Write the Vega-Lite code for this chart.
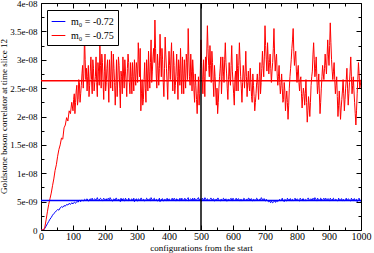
{
"$schema":"https://vega.github.io/schema/vega-lite/v6.json",
"width":320,"height":227,
"autosize":{"type":"none"},
"padding":{"left":41,"top":3,"right":13,"bottom":23},
"background":"white",
"config":{
 "view":{"stroke":"black","strokeWidth":1},
 "font":"Liberation Serif",
 "axis":{"labelFont":"Liberation Serif","titleFont":"Liberation Serif","labelColor":"black","titleColor":"black","tickColor":"black","domain":false,"grid":false,"titleFontWeight":"normal","labelFontSize":10,"titleFontSize":9,"tickWidth":1},
 "legend":{"labelFont":"Liberation Serif","labelFontSize":10,"labelColor":"black"}
},
"datasets":{
"series":[
{"x":0,"b":0,"r":0},{"x":4,"b":0,"r":0},{"x":8,"b":0,"r":0},{"x":12,"b":0.3e-9,"r":0.5e-9},{"x":16,"b":0.7e-9,"r":1.8e-9},{"x":20,"b":1.1e-9,"r":3.2e-9},{"x":24,"b":1.5e-9,"r":4.5e-9},{"x":28,"b":1.9e-9,"r":5.5e-9},{"x":32,"b":2.2e-9,"r":6.5e-9},{"x":36,"b":2.6e-9,"r":7.8e-9},
{"x":40,"b":2.9e-9,"r":9.0e-9},{"x":44,"b":3.1e-9,"r":10.5e-9},{"x":48,"b":3.4e-9,"r":11.5e-9},{"x":52,"b":3.6e-9,"r":13.0e-9},{"x":56,"b":3.5e-9,"r":14.2e-9},{"x":60,"b":3.9e-9,"r":15.0e-9},{"x":64,"b":4.1e-9,"r":16.2e-9},{"x":68,"b":4.0e-9,"r":16.0e-9},{"x":72,"b":4.3e-9,"r":18.0e-9},{"x":76,"b":4.2e-9,"r":18.5e-9},
{"x":80,"b":4.5e-9,"r":19.8e-9},{"x":84,"b":4.4e-9,"r":19.2e-9},{"x":88,"b":4.7e-9,"r":21.0e-9},{"x":92,"b":4.5e-9,"r":20.5e-9},{"x":96,"b":4.8e-9,"r":22.5e-9},{"x":100,"b":4.6e-9,"r":21.0e-9},{"x":104,"b":4.9e-9,"r":24.0e-9},{"x":108,"b":4.7e-9,"r":22.5e-9},{"x":112,"b":5.0e-9,"r":25.5e-9},{"x":116,"b":4.9e-9,"r":23.0e-9},
{"x":120,"b":5.2e-9,"r":26.0e-9},{"x":124,"b":5.0e-9,"r":24.0e-9},{"x":128,"b":5.3e-9,"r":27.5e-9},{"x":132,"b":5.1e-9,"r":25.0e-9},{"x":136,"b":5.4e-9,"r":34.5e-9},{"x":140,"b":5.2e-9,"r":26.5e-9},{"x":144,"b":5.5e-9,"r":24.5e-9},{"x":148,"b":5.1e-9,"r":29.0e-9},{"x":152,"b":5.4e-9,"r":25.5e-9},{"x":156,"b":5.3e-9,"r":30.5e-9},
{"x":160,"b":5.6e-9,"r":24.0e-9},{"x":164,"b":5.2e-9,"r":28.5e-9},{"x":168,"b":5.5e-9,"r":26.0e-9},{"x":172,"b":5.3e-9,"r":30.5e-9},{"x":176,"b":5.7e-9,"r":23.5e-9},{"x":180,"b":5.2e-9,"r":28.0e-9},{"x":184,"b":5.5e-9,"r":32.5e-9},{"x":188,"b":5.4e-9,"r":25.0e-9},{"x":192,"b":5.1e-9,"r":29.5e-9},{"x":196,"b":5.6e-9,"r":23.0e-9},
{"x":200,"b":5.3e-9,"r":31.0e-9},{"x":204,"b":5.5e-9,"r":26.0e-9},{"x":208,"b":5.2e-9,"r":30.0e-9},{"x":212,"b":5.4e-9,"r":22.5e-9},{"x":216,"b":5.7e-9,"r":27.5e-9},{"x":220,"b":5.3e-9,"r":31.5e-9},{"x":224,"b":5.1e-9,"r":24.5e-9},{"x":228,"b":5.5e-9,"r":28.5e-9},{"x":232,"b":5.3e-9,"r":22.0e-9},{"x":236,"b":5.6e-9,"r":30.0e-9},
{"x":240,"b":5.2e-9,"r":26.5e-9},{"x":244,"b":5.4e-9,"r":29.0e-9},{"x":248,"b":5.0e-9,"r":21.5e-9},{"x":252,"b":5.3e-9,"r":27.0e-9},{"x":256,"b":5.5e-9,"r":30.5e-9},{"x":260,"b":5.2e-9,"r":25.0e-9},{"x":264,"b":5.6e-9,"r":28.0e-9},{"x":268,"b":5.3e-9,"r":23.5e-9},{"x":272,"b":5.1e-9,"r":31.0e-9},{"x":276,"b":5.4e-9,"r":26.0e-9},
{"x":280,"b":5.2e-9,"r":29.5e-9},{"x":284,"b":5.5e-9,"r":24.0e-9},{"x":288,"b":5.3e-9,"r":27.0e-9},{"x":292,"b":5.0e-9,"r":30.0e-9},{"x":296,"b":5.4e-9,"r":25.5e-9},{"x":300,"b":5.2e-9,"r":28.5e-9},{"x":304,"b":5.5e-9,"r":33.0e-9},{"x":308,"b":5.3e-9,"r":27.0e-9},{"x":312,"b":5.6e-9,"r":21.0e-9},{"x":316,"b":5.2e-9,"r":26.5e-9},
{"x":320,"b":5.4e-9,"r":23.0e-9},{"x":324,"b":5.1e-9,"r":29.5e-9},{"x":328,"b":5.3e-9,"r":22.5e-9},{"x":332,"b":5.5e-9,"r":27.5e-9},{"x":336,"b":5.2e-9,"r":31.5e-9},{"x":340,"b":5.4e-9,"r":25.0e-9},{"x":344,"b":5.7e-9,"r":33.5e-9},{"x":348,"b":5.3e-9,"r":28.0e-9},{"x":352,"b":5.5e-9,"r":32.0e-9},{"x":356,"b":5.2e-9,"r":37.0e-9},
{"x":360,"b":5.4e-9,"r":27.5e-9},{"x":364,"b":5.1e-9,"r":31.0e-9},{"x":368,"b":5.3e-9,"r":25.5e-9},{"x":372,"b":5.0e-9,"r":34.5e-9},{"x":376,"b":5.3e-9,"r":27.0e-9},{"x":380,"b":5.5e-9,"r":30.0e-9},{"x":384,"b":5.2e-9,"r":23.5e-9},{"x":388,"b":5.4e-9,"r":34.0e-9},{"x":392,"b":5.1e-9,"r":28.5e-9},{"x":396,"b":5.3e-9,"r":23.0e-9},
{"x":400,"b":5.5e-9,"r":31.5e-9},{"x":404,"b":5.2e-9,"r":26.5e-9},{"x":408,"b":5.4e-9,"r":33.0e-9},{"x":412,"b":5.3e-9,"r":24.5e-9},{"x":416,"b":5.6e-9,"r":29.0e-9},{"x":420,"b":5.2e-9,"r":25.5e-9},{"x":424,"b":5.5e-9,"r":31.0e-9},{"x":428,"b":5.3e-9,"r":23.0e-9},{"x":432,"b":5.1e-9,"r":28.5e-9},{"x":436,"b":5.4e-9,"r":32.0e-9},
{"x":440,"b":5.6e-9,"r":24.0e-9},{"x":444,"b":5.3e-9,"r":27.5e-9},{"x":448,"b":5.5e-9,"r":30.0e-9},{"x":452,"b":5.2e-9,"r":25.0e-9},{"x":456,"b":5.4e-9,"r":29.5e-9},{"x":460,"b":5.7e-9,"r":35.5e-9},{"x":464,"b":5.3e-9,"r":27.0e-9},{"x":468,"b":5.5e-9,"r":31.0e-9},{"x":472,"b":5.2e-9,"r":24.5e-9},{"x":476,"b":5.4e-9,"r":28.0e-9},
{"x":480,"b":5.6e-9,"r":22.5e-9},{"x":484,"b":5.3e-9,"r":25.5e-9},{"x":488,"b":5.5e-9,"r":20.5e-9},{"x":492,"b":5.7e-9,"r":27.0e-9},{"x":496,"b":5.4e-9,"r":24.0e-9},{"x":500,"b":5.2e-9,"r":33.5e-9},{"x":504,"b":5.6e-9,"r":26.5e-9},{"x":508,"b":5.4e-9,"r":30.0e-9},{"x":512,"b":5.7e-9,"r":23.5e-9},{"x":516,"b":5.3e-9,"r":28.0e-9},
{"x":520,"b":5.5e-9,"r":36.0e-9},{"x":524,"b":5.2e-9,"r":29.0e-9},{"x":528,"b":5.4e-9,"r":32.5e-9},{"x":532,"b":5.6e-9,"r":26.0e-9},{"x":536,"b":5.3e-9,"r":29.5e-9},{"x":540,"b":5.5e-9,"r":23.5e-9},{"x":544,"b":5.2e-9,"r":27.0e-9},{"x":548,"b":5.4e-9,"r":22.0e-9},{"x":552,"b":5.6e-9,"r":20.5e-9},{"x":556,"b":5.3e-9,"r":25.0e-9},
{"x":560,"b":5.1e-9,"r":28.5e-9},{"x":564,"b":5.4e-9,"r":24.0e-9},{"x":568,"b":5.2e-9,"r":30.5e-9},{"x":572,"b":5.5e-9,"r":26.0e-9},{"x":576,"b":5.3e-9,"r":33.0e-9},{"x":580,"b":5.1e-9,"r":27.5e-9},{"x":584,"b":5.4e-9,"r":23.0e-9},{"x":588,"b":5.2e-9,"r":29.5e-9},{"x":592,"b":5.5e-9,"r":25.5e-9},{"x":596,"b":5.3e-9,"r":32.5e-9},
{"x":600,"b":5.6e-9,"r":26.0e-9},{"x":604,"b":5.2e-9,"r":22.0e-9},{"x":608,"b":5.4e-9,"r":28.0e-9},{"x":612,"b":5.3e-9,"r":31.0e-9},{"x":616,"b":5.5e-9,"r":24.5e-9},{"x":620,"b":5.2e-9,"r":33.0e-9},{"x":624,"b":5.4e-9,"r":27.0e-9},{"x":628,"b":5.1e-9,"r":22.5e-9},{"x":632,"b":5.3e-9,"r":29.0e-9},{"x":636,"b":5.5e-9,"r":25.0e-9},
{"x":640,"b":5.2e-9,"r":31.5e-9},{"x":644,"b":5.4e-9,"r":23.5e-9},{"x":648,"b":5.6e-9,"r":28.0e-9},{"x":652,"b":5.3e-9,"r":24.5e-9},{"x":656,"b":5.5e-9,"r":26.0e-9},{"x":660,"b":5.2e-9,"r":22.5e-9},{"x":664,"b":5.4e-9,"r":25.5e-9},{"x":668,"b":5.1e-9,"r":21.0e-9},{"x":672,"b":5.3e-9,"r":24.0e-9},{"x":676,"b":5.5e-9,"r":27.5e-9},
{"x":680,"b":5.2e-9,"r":23.0e-9},{"x":684,"b":5.4e-9,"r":29.5e-9},{"x":688,"b":5.7e-9,"r":26.0e-9},{"x":692,"b":5.3e-9,"r":31.5e-9},{"x":696,"b":5.5e-9,"r":27.0e-9},{"x":700,"b":5.2e-9,"r":36.0e-9},{"x":704,"b":5.4e-9,"r":30.0e-9},{"x":708,"b":5.1e-9,"r":33.0e-9},{"x":712,"b":5.0e-9,"r":27.5e-9},{"x":716,"b":4.9e-9,"r":31.0e-9},
{"x":720,"b":5.1e-9,"r":26.0e-9},{"x":724,"b":4.8e-9,"r":29.5e-9},{"x":728,"b":5.0e-9,"r":35.5e-9},{"x":732,"b":4.9e-9,"r":28.0e-9},{"x":736,"b":5.2e-9,"r":31.0e-9},{"x":740,"b":5.0e-9,"r":25.5e-9},{"x":744,"b":5.3e-9,"r":29.0e-9},{"x":748,"b":5.1e-9,"r":24.0e-9},{"x":752,"b":5.4e-9,"r":27.5e-9},{"x":756,"b":5.2e-9,"r":22.5e-9},
{"x":760,"b":5.0e-9,"r":26.0e-9},{"x":764,"b":5.3e-9,"r":21.0e-9},{"x":768,"b":5.1e-9,"r":24.5e-9},{"x":772,"b":5.4e-9,"r":19.5e-9},{"x":776,"b":5.2e-9,"r":25.0e-9},{"x":780,"b":5.5e-9,"r":28.5e-9},{"x":784,"b":5.3e-9,"r":32.0e-9},{"x":788,"b":5.1e-9,"r":35.5e-9},{"x":792,"b":5.4e-9,"r":29.0e-9},{"x":796,"b":5.2e-9,"r":31.5e-9},
{"x":800,"b":5.5e-9,"r":26.0e-9},{"x":804,"b":5.3e-9,"r":29.0e-9},{"x":808,"b":5.1e-9,"r":24.5e-9},{"x":812,"b":5.4e-9,"r":27.0e-9},{"x":816,"b":5.2e-9,"r":21.5e-9},{"x":820,"b":5.5e-9,"r":25.0e-9},{"x":824,"b":5.3e-9,"r":22.0e-9},{"x":828,"b":5.1e-9,"r":26.5e-9},{"x":832,"b":5.4e-9,"r":19.0e-9},{"x":836,"b":5.6e-9,"r":23.5e-9},
{"x":840,"b":5.3e-9,"r":20.0e-9},{"x":844,"b":5.5e-9,"r":25.5e-9},{"x":848,"b":5.2e-9,"r":28.0e-9},{"x":852,"b":5.4e-9,"r":33.0e-9},{"x":856,"b":5.7e-9,"r":27.0e-9},{"x":860,"b":5.3e-9,"r":30.5e-9},{"x":864,"b":5.6e-9,"r":24.0e-9},{"x":868,"b":5.4e-9,"r":27.5e-9},{"x":872,"b":5.2e-9,"r":20.5e-9},{"x":876,"b":5.5e-9,"r":25.0e-9},
{"x":880,"b":5.3e-9,"r":29.0e-9},{"x":884,"b":5.6e-9,"r":26.5e-9},{"x":888,"b":5.4e-9,"r":31.0e-9},{"x":892,"b":5.2e-9,"r":27.5e-9},{"x":896,"b":5.5e-9,"r":33.5e-9},{"x":900,"b":5.3e-9,"r":29.0e-9},{"x":904,"b":5.6e-9,"r":36.5e-9},{"x":908,"b":5.3e-9,"r":30.0e-9},{"x":912,"b":5.5e-9,"r":26.5e-9},{"x":916,"b":5.2e-9,"r":29.5e-9},
{"x":920,"b":5.4e-9,"r":24.0e-9},{"x":924,"b":5.3e-9,"r":27.0e-9},{"x":928,"b":5.1e-9,"r":20.0e-9},{"x":932,"b":5.4e-9,"r":24.5e-9},{"x":936,"b":5.2e-9,"r":19.5e-9},{"x":940,"b":5.5e-9,"r":23.0e-9},{"x":944,"b":5.3e-9,"r":26.5e-9},{"x":948,"b":5.1e-9,"r":21.0e-9},{"x":952,"b":5.4e-9,"r":25.0e-9},{"x":956,"b":5.2e-9,"r":28.5e-9},
{"x":960,"b":5.5e-9,"r":22.0e-9},{"x":964,"b":5.3e-9,"r":26.0e-9},{"x":968,"b":5.1e-9,"r":30.5e-9},{"x":972,"b":5.4e-9,"r":24.0e-9},{"x":976,"b":5.2e-9,"r":27.0e-9},{"x":980,"b":5.5e-9,"r":22.5e-9},{"x":984,"b":5.3e-9,"r":18.5e-9},{"x":988,"b":5.0e-9,"r":24.0e-9},{"x":992,"b":5.4e-9,"r":29.5e-9},{"x":996,"b":5.2e-9,"r":25.0e-9},
{"x":1000,"b":5.0e-9,"r":26.5e-9},
{"x":102,"b":4.8e-9,"r":23.0e-9},{"x":106,"b":4.8e-9,"r":20.5e-9},{"x":110,"b":4.9e-9,"r":24.5e-9},{"x":114,"b":5.0e-9,"r":22.0e-9},{"x":118,"b":5.1e-9,"r":26.5e-9},{"x":122,"b":5.1e-9,"r":22.5e-9},{"x":126,"b":5.2e-9,"r":25.5e-9},{"x":130,"b":5.2e-9,"r":29.0e-9},{"x":134,"b":5.3e-9,"r":27.5e-9},{"x":138,"b":5.3e-9,"r":30.0e-9},
{"x":142,"b":5.4e-9,"r":28.5e-9},{"x":146,"b":5.3e-9,"r":27.0e-9},{"x":150,"b":5.2e-9,"r":23.5e-9},{"x":154,"b":5.5e-9,"r":28.0e-9},{"x":158,"b":5.4e-9,"r":26.5e-9},{"x":162,"b":5.3e-9,"r":30.0e-9},{"x":166,"b":5.4e-9,"r":24.5e-9},{"x":170,"b":5.4e-9,"r":27.0e-9},{"x":174,"b":5.5e-9,"r":26.0e-9},{"x":178,"b":5.4e-9,"r":29.5e-9},
{"x":182,"b":5.3e-9,"r":25.5e-9},{"x":186,"b":5.6e-9,"r":29.0e-9},{"x":190,"b":5.3e-9,"r":31.0e-9},{"x":194,"b":5.4e-9,"r":26.0e-9},{"x":198,"b":5.4e-9,"r":28.0e-9},{"x":202,"b":5.4e-9,"r":24.5e-9},{"x":206,"b":5.2e-9,"r":28.5e-9},{"x":210,"b":5.6e-9,"r":26.0e-9},{"x":214,"b":5.3e-9,"r":30.0e-9},{"x":218,"b":5.5e-9,"r":25.0e-9},
{"x":222,"b":5.1e-9,"r":28.0e-9},{"x":226,"b":5.4e-9,"r":31.0e-9},{"x":230,"b":5.3e-9,"r":26.0e-9},{"x":234,"b":5.6e-9,"r":25.5e-9},{"x":238,"b":5.2e-9,"r":23.5e-9},{"x":242,"b":5.4e-9,"r":30.5e-9},{"x":246,"b":5.2e-9,"r":25.0e-9},{"x":250,"b":5.6e-9,"r":28.0e-9},{"x":254,"b":5.3e-9,"r":24.0e-9},{"x":258,"b":5.5e-9,"r":27.5e-9},
{"x":262,"b":5.1e-9,"r":30.0e-9},{"x":266,"b":5.4e-9,"r":26.0e-9},{"x":270,"b":5.3e-9,"r":28.5e-9},{"x":274,"b":5.6e-9,"r":29.5e-9},{"x":278,"b":5.2e-9,"r":24.0e-9},{"x":282,"b":5.4e-9,"r":27.0e-9},{"x":286,"b":5.2e-9,"r":29.5e-9},{"x":290,"b":5.6e-9,"r":24.5e-9},{"x":294,"b":5.3e-9,"r":27.5e-9},{"x":298,"b":5.5e-9,"r":29.5e-9},
{"x":302,"b":5.1e-9,"r":26.0e-9},{"x":306,"b":5.4e-9,"r":30.0e-9},{"x":310,"b":5.3e-9,"r":32.0e-9},{"x":314,"b":5.6e-9,"r":24.0e-9},{"x":318,"b":5.2e-9,"r":22.0e-9},{"x":322,"b":5.4e-9,"r":26.5e-9},{"x":326,"b":5.2e-9,"r":25.0e-9},{"x":330,"b":5.6e-9,"r":30.0e-9},{"x":334,"b":5.3e-9,"r":24.5e-9},{"x":338,"b":5.5e-9,"r":28.0e-9},
{"x":342,"b":5.1e-9,"r":29.5e-9},{"x":346,"b":5.4e-9,"r":26.0e-9},{"x":350,"b":5.3e-9,"r":30.5e-9},{"x":354,"b":5.6e-9,"r":29.5e-9},{"x":358,"b":5.2e-9,"r":32.0e-9},{"x":362,"b":5.4e-9,"r":25.0e-9},{"x":366,"b":5.2e-9,"r":29.0e-9},{"x":370,"b":5.6e-9,"r":28.5e-9},{"x":374,"b":5.3e-9,"r":30.5e-9},{"x":378,"b":5.5e-9,"r":32.0e-9},
{"x":382,"b":5.1e-9,"r":26.0e-9},{"x":386,"b":5.4e-9,"r":28.5e-9},{"x":390,"b":5.3e-9,"r":31.0e-9},{"x":394,"b":5.6e-9,"r":26.0e-9},{"x":398,"b":5.2e-9,"r":28.0e-9},{"x":402,"b":5.4e-9,"r":29.0e-9},{"x":406,"b":5.2e-9,"r":30.5e-9},{"x":410,"b":5.6e-9,"r":27.5e-9},{"x":414,"b":5.3e-9,"r":31.5e-9},{"x":418,"b":5.5e-9,"r":24.0e-9},
{"x":422,"b":5.1e-9,"r":28.0e-9},{"x":426,"b":5.4e-9,"r":27.0e-9},{"x":430,"b":5.3e-9,"r":30.0e-9},{"x":434,"b":5.6e-9,"r":25.5e-9},{"x":438,"b":5.2e-9,"r":27.5e-9},{"x":442,"b":5.4e-9,"r":30.5e-9},{"x":446,"b":5.2e-9,"r":24.0e-9},{"x":450,"b":5.6e-9,"r":27.5e-9},{"x":454,"b":5.3e-9,"r":31.0e-9},{"x":458,"b":5.5e-9,"r":26.5e-9},
{"x":462,"b":5.1e-9,"r":30.5e-9},{"x":466,"b":5.4e-9,"r":25.5e-9},{"x":470,"b":5.3e-9,"r":28.0e-9},{"x":474,"b":5.6e-9,"r":30.0e-9},{"x":478,"b":5.2e-9,"r":24.5e-9},{"x":482,"b":5.4e-9,"r":27.5e-9},{"x":486,"b":5.2e-9,"r":23.0e-9},{"x":490,"b":5.6e-9,"r":24.0e-9},{"x":494,"b":5.3e-9,"r":22.0e-9},{"x":498,"b":5.5e-9,"r":28.5e-9},
{"x":502,"b":5.1e-9,"r":29.5e-9},{"x":506,"b":5.4e-9,"r":24.0e-9},{"x":510,"b":5.3e-9,"r":27.0e-9},{"x":514,"b":5.6e-9,"r":30.5e-9},{"x":518,"b":5.2e-9,"r":31.0e-9},{"x":522,"b":5.4e-9,"r":32.0e-9},{"x":526,"b":5.2e-9,"r":27.0e-9},{"x":530,"b":5.6e-9,"r":29.0e-9},{"x":534,"b":5.3e-9,"r":31.5e-9},{"x":538,"b":5.5e-9,"r":26.0e-9},
{"x":542,"b":5.1e-9,"r":29.0e-9},{"x":546,"b":5.4e-9,"r":24.5e-9},{"x":550,"b":5.3e-9,"r":25.0e-9},{"x":554,"b":5.6e-9,"r":22.5e-9},{"x":558,"b":5.2e-9,"r":27.0e-9},{"x":562,"b":5.4e-9,"r":30.5e-9},{"x":566,"b":5.2e-9,"r":27.0e-9},{"x":570,"b":5.6e-9,"r":28.0e-9},{"x":574,"b":5.3e-9,"r":30.0e-9},{"x":578,"b":5.5e-9,"r":29.5e-9},
{"x":582,"b":5.1e-9,"r":25.0e-9},{"x":586,"b":5.4e-9,"r":26.5e-9},{"x":590,"b":5.3e-9,"r":27.0e-9},{"x":594,"b":5.6e-9,"r":29.0e-9},{"x":598,"b":5.2e-9,"r":28.0e-9},{"x":602,"b":5.4e-9,"r":24.0e-9},{"x":606,"b":5.2e-9,"r":26.5e-9},{"x":610,"b":5.6e-9,"r":24.5e-9},{"x":614,"b":5.3e-9,"r":28.5e-9},{"x":618,"b":5.5e-9,"r":29.0e-9},
{"x":622,"b":5.1e-9,"r":30.0e-9},{"x":626,"b":5.4e-9,"r":25.0e-9},{"x":630,"b":5.3e-9,"r":26.0e-9},{"x":634,"b":5.6e-9,"r":27.5e-9},{"x":638,"b":5.2e-9,"r":28.0e-9},{"x":642,"b":5.4e-9,"r":27.0e-9},{"x":646,"b":5.2e-9,"r":26.0e-9},{"x":650,"b":5.6e-9,"r":25.5e-9},{"x":654,"b":5.3e-9,"r":28.5e-9},{"x":658,"b":5.5e-9,"r":23.5e-9},
{"x":662,"b":5.1e-9,"r":27.5e-9},{"x":666,"b":5.4e-9,"r":23.5e-9},{"x":670,"b":5.3e-9,"r":22.5e-9},{"x":674,"b":5.6e-9,"r":26.0e-9},{"x":678,"b":5.2e-9,"r":25.5e-9},{"x":682,"b":5.4e-9,"r":27.0e-9},{"x":686,"b":5.2e-9,"r":24.0e-9},{"x":690,"b":5.6e-9,"r":28.5e-9},{"x":694,"b":5.3e-9,"r":29.0e-9},{"x":698,"b":5.5e-9,"r":30.5e-9},
{"x":702,"b":5.1e-9,"r":32.5e-9},{"x":706,"b":5.3e-9,"r":28.0e-9},{"x":710,"b":5.0e-9,"r":30.0e-9},{"x":714,"b":5.2e-9,"r":29.5e-9},{"x":718,"b":4.8e-9,"r":28.5e-9},{"x":722,"b":5.0e-9,"r":28.0e-9},{"x":726,"b":4.9e-9,"r":32.0e-9},{"x":730,"b":5.2e-9,"r":31.0e-9},{"x":734,"b":4.9e-9,"r":30.0e-9},{"x":738,"b":5.1e-9,"r":27.5e-9},
{"x":742,"b":5.1e-9,"r":27.0e-9},{"x":746,"b":5.4e-9,"r":26.0e-9},{"x":750,"b":5.3e-9,"r":25.5e-9},{"x":754,"b":5.6e-9,"r":25.0e-9},{"x":758,"b":5.2e-9,"r":23.0e-9},{"x":762,"b":5.4e-9,"r":24.5e-9},{"x":766,"b":5.2e-9,"r":23.0e-9},{"x":770,"b":5.6e-9,"r":22.5e-9},{"x":774,"b":5.3e-9,"r":22.0e-9},{"x":778,"b":5.5e-9,"r":27.0e-9},
{"x":782,"b":5.1e-9,"r":30.0e-9},{"x":786,"b":5.4e-9,"r":33.5e-9},{"x":790,"b":5.3e-9,"r":31.5e-9},{"x":794,"b":5.6e-9,"r":30.5e-9},{"x":798,"b":5.2e-9,"r":28.0e-9},{"x":802,"b":5.4e-9,"r":28.0e-9},{"x":806,"b":5.2e-9,"r":26.0e-9},{"x":810,"b":5.6e-9,"r":26.5e-9},{"x":814,"b":5.3e-9,"r":24.0e-9},{"x":818,"b":5.5e-9,"r":23.5e-9},
{"x":822,"b":5.1e-9,"r":24.0e-9},{"x":826,"b":5.4e-9,"r":24.0e-9},{"x":830,"b":5.3e-9,"r":22.5e-9},{"x":834,"b":5.6e-9,"r":21.0e-9},{"x":838,"b":5.2e-9,"r":22.0e-9},{"x":842,"b":5.4e-9,"r":22.5e-9},{"x":846,"b":5.2e-9,"r":27.0e-9},{"x":850,"b":5.6e-9,"r":31.0e-9},{"x":854,"b":5.3e-9,"r":30.0e-9},{"x":858,"b":5.5e-9,"r":28.5e-9},
{"x":862,"b":5.1e-9,"r":27.0e-9},{"x":866,"b":5.4e-9,"r":25.5e-9},{"x":870,"b":5.3e-9,"r":24.0e-9},{"x":874,"b":5.6e-9,"r":22.5e-9},{"x":878,"b":5.2e-9,"r":27.0e-9},{"x":882,"b":5.4e-9,"r":27.5e-9},{"x":886,"b":5.2e-9,"r":28.5e-9},{"x":890,"b":5.6e-9,"r":29.0e-9},{"x":894,"b":5.3e-9,"r":30.5e-9},{"x":898,"b":5.5e-9,"r":31.0e-9},
{"x":902,"b":5.1e-9,"r":32.5e-9},{"x":906,"b":5.4e-9,"r":33.0e-9},{"x":910,"b":5.3e-9,"r":28.0e-9},{"x":914,"b":5.6e-9,"r":28.0e-9},{"x":918,"b":5.2e-9,"r":26.5e-9},{"x":922,"b":5.4e-9,"r":25.5e-9},{"x":926,"b":5.2e-9,"r":23.5e-9},{"x":930,"b":5.6e-9,"r":22.0e-9},{"x":934,"b":5.3e-9,"r":22.0e-9},{"x":938,"b":5.5e-9,"r":21.5e-9},
{"x":942,"b":5.1e-9,"r":24.5e-9},{"x":946,"b":5.4e-9,"r":24.0e-9},{"x":950,"b":5.3e-9,"r":23.0e-9},{"x":954,"b":5.6e-9,"r":26.5e-9},{"x":958,"b":5.2e-9,"r":25.0e-9},{"x":962,"b":5.4e-9,"r":24.0e-9},{"x":966,"b":5.2e-9,"r":28.0e-9},{"x":970,"b":5.6e-9,"r":27.0e-9},{"x":974,"b":5.3e-9,"r":25.5e-9},{"x":978,"b":5.5e-9,"r":24.5e-9},
{"x":982,"b":5.1e-9,"r":20.5e-9},{"x":986,"b":5.4e-9,"r":21.0e-9},{"x":990,"b":5.3e-9,"r":26.5e-9},{"x":994,"b":5.6e-9,"r":27.5e-9},{"x":998,"b":5.2e-9,"r":25.5e-9}
],
"levels":[{"run":"r","level":2.63e-8},{"run":"b","level":5.2e-9}],
"marker":[{"x":500}]
},
"resolve":{"axis":{"x":"independent","y":"independent"}},
"layer":[
{
 "data":{"name":"series"},
 "transform":[{"fold":["b","r"],"as":["run","value"]}],
 "mark":{"type":"line","strokeWidth":1,"clip":true},
 "encoding":{
  "x":{"field":"x","type":"quantitative","scale":{"domain":[0,1000],"nice":false,"zero":false},
   "axis":{"orient":"bottom","title":"configurations from the start","format":"d","values":[0,50,100,150,200,250,300,350,400,450,500,550,600,650,700,750,800,850,900,950,1000],
    "labelExpr":"datum.value % 100 == 0 ? datum.label : ''","labelFlush":false,"labelOverlap":false,
    "tickSize":{"condition":{"test":"datum.value % 100 == 0","value":-5},"value":-3},"labelPadding":6,"titlePadding":0}},
  "y":{"field":"value","type":"quantitative","scale":{"domain":[0,4e-8],"nice":false,"zero":false},
   "axis":{"orient":"left","title":"Goldstone boson correlator at time slice 12","values":[0,2.5e-9,5e-9,7.5e-9,1e-8,1.25e-8,1.5e-8,1.75e-8,2e-8,2.25e-8,2.5e-8,2.75e-8,3e-8,3.25e-8,3.5e-8,3.75e-8,4e-8],
    "labelExpr":"round(datum.value*4e8) % 2 == 0 ? (datum.value == 0 ? '0' : replace(format(datum.value, '~e'), 'e-', 'e-0')) : ''","labelFlush":false,"labelOverlap":false,"labelFontSize":9,
    "tickSize":{"condition":{"test":"round(datum.value*4e8) % 2 == 0","value":-5},"value":-3},"labelPadding":9,"titleX":-33,"titleY":113,"titleAngle":270,"titleAlign":"center","titleBaseline":"bottom"}},
  "color":{"field":"run","type":"nominal","scale":{"domain":["b","r"],"range":["#0000ff","#ff0000"]},
   "legend":{"title":null,"orient":"none","legendX":6,"legendY":7,"strokeColor":"black","fillColor":"white","padding":4,"symbolType":"stroke","symbolSize":188,"symbolStrokeWidth":1,"labelOffset":5,"rowPadding":1,
    "labelExpr":"datum.label == 'b' ? 'm₀ = -0.72' : 'm₀ = -0.75'"}}
 }
},
{
 "data":{"name":"levels"},
 "mark":{"type":"rule","strokeWidth":1.5},
 "encoding":{
  "y":{"field":"level","type":"quantitative",
   "axis":{"orient":"right","title":null,"labels":false,"values":[0,2.5e-9,5e-9,7.5e-9,1e-8,1.25e-8,1.5e-8,1.75e-8,2e-8,2.25e-8,2.5e-8,2.75e-8,3e-8,3.25e-8,3.5e-8,3.75e-8,4e-8],
    "tickSize":{"condition":{"test":"round(datum.value*4e8) % 2 == 0","value":-5},"value":-3}}},
  "color":{"field":"run","type":"nominal","legend":null}
 }
},
{
 "data":{"name":"marker"},
 "mark":{"type":"rule","strokeWidth":1.5,"color":"black"},
 "encoding":{
  "x":{"field":"x","type":"quantitative",
   "axis":{"orient":"top","title":null,"labels":false,"values":[0,50,100,150,200,250,300,350,400,450,500,550,600,650,700,750,800,850,900,950,1000],
    "tickSize":{"condition":{"test":"datum.value % 100 == 0","value":-5},"value":-3}}}
 }
}
]
}
